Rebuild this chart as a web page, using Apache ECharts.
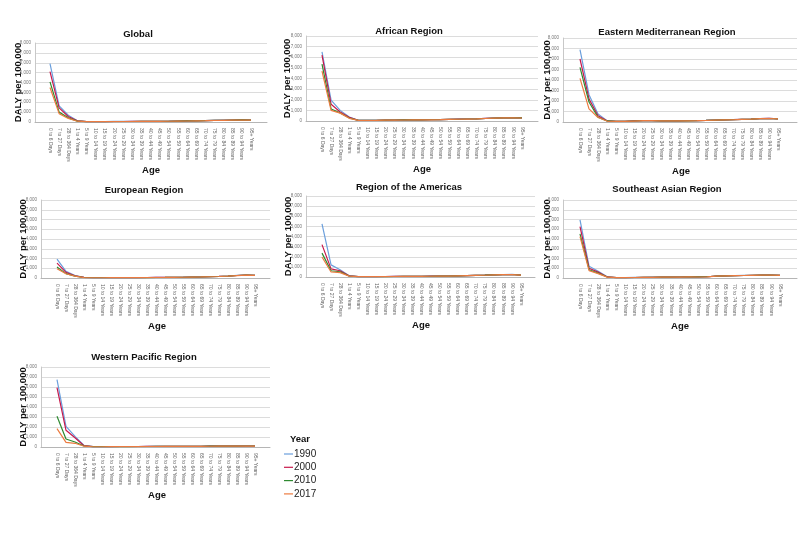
<!DOCTYPE html>
<html>
<head>
<meta charset="utf-8">
<script src="https://cdn.jsdelivr.net/npm/echarts@6/dist/echarts.min.js"></script>
<style>
html,body{margin:0;padding:0;background:#fff;}
#chart{width:800px;height:539px;}
</style>
</head>
<body>
<div id="chart"></div>
<script>
const categories = ['0 to 6 Days','7 to 27 Days','28 to 364 Days','1 to 4 Years','5 to 9 Years','10 to 14 Years','15 to 19 Years','20 to 24 Years','25 to 29 Years','30 to 34 Years','35 to 39 Years','40 to 44 Years','45 to 49 Years','50 to 54 Years','55 to 59 Years','60 to 64 Years','65 to 69 Years','70 to 74 Years','75 to 79 Years','80 to 84 Years','85 to 89 Years','90 to 94 Years','95+ Years'];
const years = ['1990','2000','2010','2017'];
const yTickMax = 8000;
const yTickStep = 1000;

const global1990 = [5900,1640,680,130,45,35,45,55,55,55,60,65,70,80,95,110,125,140,160,180,200,215,195];
const global2000 = [5100,1430,560,110,42,33,43,52,53,55,58,63,70,78,92,108,122,138,158,178,198,212,192];
const global2010 = [4060,1000,420,90,38,30,40,50,50,52,56,62,68,76,90,105,120,135,155,175,195,208,188];
const global2017 = [3500,850,360,80,35,28,38,48,50,50,55,60,66,74,88,102,118,132,152,172,192,205,185];

const african1990 = [6500,1970,1000,380,70,55,70,90,95,100,105,110,120,130,150,170,190,210,240,270,300,310,290];
const african2000 = [6200,1580,840,340,65,52,68,88,95,100,105,110,118,128,148,168,188,208,238,268,298,308,288];
const african2010 = [5350,1130,760,280,60,50,65,85,92,98,103,108,116,126,146,166,186,206,236,266,295,305,285];
const african2017 = [4700,1000,740,250,55,48,62,82,90,95,100,106,114,124,144,164,184,204,234,264,292,302,282];

const eastMed1990 = [6900,2600,770,130,60,70,100,130,130,115,110,110,120,130,150,180,200,220,250,280,320,340,300];
const eastMed2000 = [6000,2200,600,110,58,68,98,128,128,112,108,108,118,128,148,178,198,218,248,278,318,338,298];
const eastMed2010 = [5200,1900,450,100,55,65,95,125,125,110,105,106,116,126,146,176,196,216,246,276,315,335,295];
const eastMed2017 = [4150,1250,430,90,52,62,92,122,122,108,103,104,114,124,144,174,194,214,244,274,312,332,292];

const europe1990 = [1940,680,260,60,30,30,35,40,40,45,50,55,60,70,80,95,110,130,160,200,260,300,280];
const europe2000 = [1530,580,230,55,28,28,33,38,40,44,49,54,59,69,79,94,109,129,158,198,258,298,278];
const europe2010 = [1120,450,200,50,26,26,31,36,38,42,47,52,58,68,78,93,108,128,156,196,255,295,275];
const europe2017 = [950,440,190,45,24,24,30,35,37,41,46,51,57,67,77,92,107,127,154,194,252,292,272];

const americas1990 = [5250,1200,720,130,40,35,40,50,55,60,65,70,80,90,100,120,140,160,180,210,240,250,190];
const americas2000 = [3200,800,620,110,38,33,38,48,53,58,63,68,78,88,98,118,138,158,178,208,238,248,188];
const americas2010 = [2360,620,520,95,36,31,36,46,51,56,61,66,76,86,96,116,136,156,176,206,236,246,186];
const americas2017 = [1970,500,430,90,34,30,35,45,50,55,60,65,75,85,95,115,135,155,175,205,234,244,184];

const seAsia1990 = [5950,1200,700,120,50,40,55,70,80,90,95,105,115,110,130,200,220,240,260,280,300,305,270];
const seAsia2000 = [5270,1000,600,110,48,38,53,68,78,88,93,103,113,108,128,198,218,238,258,278,298,303,268];
const seAsia2010 = [4520,850,500,100,46,36,51,66,76,86,91,101,111,106,126,196,216,236,256,276,296,301,266];
const seAsia2017 = [4250,750,450,90,44,34,49,64,74,84,89,99,109,104,124,194,214,234,254,274,294,299,264];

const wpac1990 = [6730,2070,1070,150,30,30,40,50,50,50,55,55,60,60,65,70,75,80,85,90,95,100,100];
const wpac2000 = [5930,1670,930,130,29,29,38,48,48,49,53,54,58,59,64,69,74,79,84,89,94,99,99];
const wpac2010 = [3070,800,500,100,28,28,37,47,47,48,52,53,57,58,63,68,73,78,83,88,93,98,98];
const wpac2017 = [1830,470,370,80,27,27,36,46,46,47,51,52,56,57,62,67,72,77,82,87,92,97,97];

const panelTitles = ['Global','African Region','Eastern Mediterranean Region','European Region','Region of the Americas','Southeast Asian Region','Western Pacific Region'];
const panelData = [
  [global1990,global2000,global2010,global2017],
  [african1990,african2000,african2010,african2017],
  [eastMed1990,eastMed2000,eastMed2010,eastMed2017],
  [europe1990,europe2000,europe2010,europe2017],
  [americas1990,americas2000,americas2010,americas2017],
  [seAsia1990,seAsia2000,seAsia2010,seAsia2017],
  [wpac1990,wpac2000,wpac2010,wpac2017]
];

// layout (pixels): plot left/right, 8000 line, 0 line, first/last category, title centre, y-name x, "Age" centre
const layout = [
  {l:35, r:267, t:43, z:122, c0:50, c1:251, tx:138, ty:34, yx:18, ax:151, ay:170},
  {l:306, r:538, t:36, z:121, c0:322, c1:522, tx:409, ty:31, yx:287, ax:422, ay:169},
  {l:563, r:797, t:38, z:122, c0:580, c1:778, tx:667, ty:32, yx:547, ax:681, ay:171},
  {l:41, r:270, t:200, z:278, c0:57, c1:255, tx:144, ty:190, yx:23, ax:157, ay:326},
  {l:306, r:535, t:196, z:277, c0:322, c1:521, tx:409, ty:187, yx:288, ax:421, ay:325},
  {l:563, r:797, t:200, z:278, c0:580, c1:780, tx:667, ty:189, yx:547, ax:680, ay:326},
  {l:41, r:270, t:367, z:447, c0:57, c1:255, tx:144, ty:357, yx:23, ax:157, ay:495}
];

const colors = ['#6b9fdc','#c8194b','#2f8a31','#ec7b40'];
const FONT = 'Liberation Sans, Arial, sans-serif';

const grid = [], xAxis = [], yAxis = [], series = [], graphic = [];
layout.forEach((p, i) => {
  // background grid: gridlines, y labels, frame lines
  grid.push({left:p.l, top:p.t, width:p.r - p.l, height:p.z - p.t});
  xAxis.push({type:'value', gridIndex:2*i, min:0, max:1, offset:4,
    axisLine:{show:true, lineStyle:{color:'#b5b5b5', width:1}},
    axisTick:{show:false}, axisLabel:{show:false}, splitLine:{show:false}});
  yAxis.push({type:'value', gridIndex:2*i, min:0, max:yTickMax, interval:yTickStep,
    axisLine:{show:true, lineStyle:{color:'#c8c8c8', width:1}},
    axisTick:{show:false},
    axisLabel:{fontSize:4.5, color:'#777', margin:4, fontFamily:FONT},
    splitLine:{lineStyle:{color:'#dcdcdc', width:1}}});
  // data grid
  grid.push({left:p.c0, top:p.t, width:p.c1 - p.c0, height:p.z - p.t});
  xAxis.push({type:'category', gridIndex:2*i+1, data:categories, boundaryGap:false,
    axisLine:{show:false}, axisTick:{show:false},
    axisLabel:{interval:0, rotate:-90, fontSize:5, color:'#666', margin:6, fontFamily:FONT}});
  yAxis.push({type:'value', gridIndex:2*i+1, min:0, max:yTickMax, interval:yTickStep, show:false});
  panelData[i].forEach((vals, k) => {
    series.push({type:'line', name:years[k], xAxisIndex:2*i+1, yAxisIndex:2*i+1,
      data:vals, showSymbol:false, symbol:'none', silent:true,
      lineStyle:{color:colors[k], width:1.2}, itemStyle:{color:colors[k]}, z:2+k});
  });
  graphic.push({type:'text', x:p.tx, y:p.ty, style:{text:panelTitles[i], fill:'#111',
    font:'bold 9.5px ' + FONT, textAlign:'center', textVerticalAlign:'middle'}});
  graphic.push({type:'text', x:p.yx, y:(p.t + p.z)/2, rotation:Math.PI/2, style:{text:'DALY per 100,000', fill:'#111',
    font:'bold 9.5px ' + FONT, textAlign:'center', textVerticalAlign:'middle'}});
  graphic.push({type:'text', x:p.ax, y:p.ay, style:{text:'Age', fill:'#111',
    font:'bold 9.5px ' + FONT, textAlign:'center', textVerticalAlign:'middle'}});
});
graphic.push({type:'text', x:300, y:439, style:{text:'Year', fill:'#111',
  font:'bold 9.5px ' + FONT, textAlign:'center', textVerticalAlign:'middle'}});

const chart = echarts.init(document.getElementById('chart'), null, {renderer:'canvas'});
chart.setOption({
  animation:false,
  backgroundColor:'#ffffff',
  grid, xAxis, yAxis, series, graphic,
  legend:{data:years, orient:'vertical', left:284, top:449, padding:0, icon:'rect', itemWidth:9, itemHeight:1.2,
    itemGap:3.3, selectedMode:false,
    formatter:'{t|{name}}',
    textStyle:{color:'#222', rich:{t:{fontSize:10, color:'#222', fontFamily:FONT, lineHeight:11, padding:[0,0,0,-4]}}}}
});
</script>
</body>
</html>
